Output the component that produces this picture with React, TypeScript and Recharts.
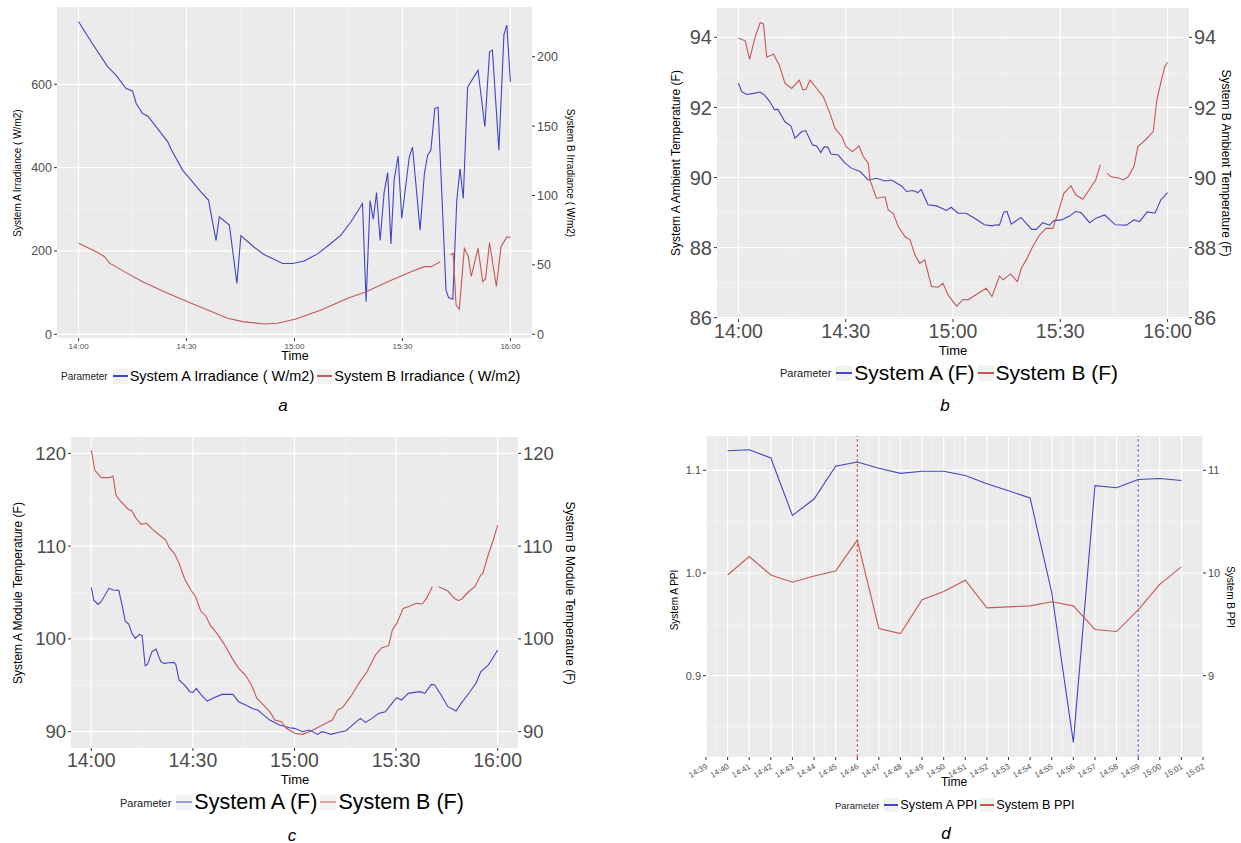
import React from "react";
import { LineChart, Line, XAxis, YAxis, CartesianGrid, ReferenceLine } from "recharts";

type Pt = [number, number | null];

const BLUE = "#4444c8";
const RED = "#c85656";
const BG = "#EBEBEB";
const TICK = "#4D4D4D";

// a — irradiance, minutes after 14:00
const irrA: Pt[] = [
  [0, 750], [3.5, 702], [8.1, 642], [10.4, 622], [13.2, 590], [15, 584], [16, 554], [17.8, 530],
  [19.2, 524], [24.8, 462], [25.7, 444], [28.9, 394], [34, 342], [36.1, 322], [38.2, 225], [39.1, 282],
  [41.9, 262], [44, 122], [45.1, 237], [48.8, 209], [51.4, 192], [56.7, 170], [59.5, 170], [62.7, 176],
  [66.4, 193], [70.1, 218], [72.9, 238], [75.7, 270], [78.9, 314], [79.9, 78], [81, 321], [81.9, 276],
  [82.8, 340], [83.8, 225], [84.9, 340], [85.9, 388], [86.8, 217], [87.7, 370], [88.8, 428], [89.8, 278],
  [91.9, 426], [92.8, 449], [94.9, 250], [96.1, 386], [97, 430], [97.9, 442], [99, 542], [99.9, 545],
  [102.1, 106], [102.8, 88], [104, 84], [105.1, 322], [106, 397], [106.9, 326], [108.1, 593], [111, 634],
  [112.9, 498], [114.2, 678], [115, 682], [116.8, 442], [118.2, 719], [119, 742], [120, 606],
];
const irrB: Pt[] = [
  [0, 65.6], [4.9, 59.5], [7.2, 55.9], [8.6, 51.2], [13.2, 44.4], [17.8, 37.9], [23.8, 30.7], [30.3, 23.5],
  [35.9, 17.5], [41.4, 11.5], [45.6, 9.1], [51.6, 7.4], [55.3, 7.9], [60.4, 11], [67.4, 17.5], [74.8, 25.9],
  [79.9, 30.7], [85.9, 37.9], [92.4, 45.1], [96.1, 48.7], [98, 48.7], [100.5, 52.3], [101.8, null],
  [103.3, 57.1], [104.1, 58.4], [104.9, 21.1], [105.8, 18], [107.2, 62], [108.3, 56], [109.1, 41.6],
  [111, 62], [112.3, 38], [113.1, 40], [114.2, 66], [116.1, 34.4], [117.4, 63.2], [119, 70], [120, 70],
];

// b — ambient temperature
const ambA: Pt[] = [
  [0, 92.69], [0.9, 92.45], [2.3, 92.37], [4.2, 92.4], [6.1, 92.44], [7.3, 92.35], [8.8, 92.16], [10.1, 91.93],
  [11, 91.95], [13, 91.59], [14.7, 91.47], [15.8, 91.12], [17.7, 91.31], [18.8, 91.34], [20.7, 90.93], [21.9, 90.9],
  [23, 90.71], [24, 90.88], [25, 90.86], [25.9, 90.67], [27.9, 90.64], [29.8, 90.41], [31.7, 90.26], [34, 90.17],
  [36.3, 89.93], [38.6, 89.98], [41, 89.9], [42.8, 89.93], [45.6, 89.76], [47, 89.6], [48.8, 89.63], [50.2, 89.57],
  [51.1, 89.66], [53, 89.22], [55.4, 89.19], [58.2, 89.06], [59.5, 89.15], [61.4, 88.98], [63.7, 88.98], [66.5, 88.81],
  [68.8, 88.65], [70.9, 88.62], [72.1, 88.65], [73, 88.64], [74.2, 89.01], [75.1, 89.03], [76.3, 88.67], [79, 88.86],
  [82, 88.52], [83.3, 88.52], [85.1, 88.71], [87, 88.64], [88.2, 88.77], [90.3, 88.79], [92.6, 88.9], [94.2, 89.03],
  [95.8, 89], [98.2, 88.71], [100, 88.84], [102.4, 88.93], [105.4, 88.65], [108.5, 88.64], [110.6, 88.79],
  [112.2, 88.74], [114.3, 89.02], [116.5, 88.98], [118.1, 89.36], [120, 89.57],
];
const ambB: Pt[] = [
  [0, 93.97], [1.9, 93.9], [3.1, 93.37], [4.7, 94.02], [6.1, 94.42], [7, 94.38], [7.9, 93.43], [9.8, 93.52],
  [11.4, 93.21], [13, 92.69], [14.9, 92.54], [17, 92.78], [18, 92.5], [18.9, 92.52], [20, 92.78], [21.9, 92.54],
  [23.7, 92.31], [25.6, 91.83], [27, 91.4], [28.9, 91.17], [30.1, 90.88], [31.9, 90.74], [33.7, 90.9], [34.9, 90.6],
  [36.3, 90.41], [36.8, 89.93], [38.6, 89.41], [41, 89.45], [41.9, 89.07], [43.3, 88.98], [44.7, 88.6], [46.6, 88.31],
  [48, 88.22], [49.3, 87.8], [50.7, 87.55], [52.1, 87.65], [54, 86.89], [55.8, 86.87], [57.2, 86.98], [58.6, 86.65],
  [61, 86.33], [62.8, 86.52], [64.2, 86.51], [67.4, 86.72], [69.3, 86.84], [70.9, 86.6], [73, 87.19], [74, 87.08],
  [76.1, 87.25], [78, 87.03], [79.1, 87.41], [80.5, 87.65], [82.3, 88.03], [84.2, 88.36], [86, 88.55], [87.9, 88.55],
  [89.5, 89.03], [91, 89.55], [93, 89.76], [94.4, 89.5], [96.3, 89.38], [99.9, 89.93], [101.2, 90.36], [102.2, null],
  [103.1, 90.12], [104.2, 90.02], [106.6, 89.98], [107.6, 89.93], [109, 90.02], [110.6, 90.31], [111.7, 90.88],
  [113.8, 91.07], [116, 91.31], [117, 92.21], [118.1, 92.69], [119.2, 93.16], [120, 93.28],
];

// c — module temperature
const modA: Pt[] = [
  [0, 105.56], [0.7, 104.19], [2, 103.72], [2.9, 104.01], [5.2, 105.45], [6.4, 105.27], [8.1, 105.23], [9.3, 103.29],
  [10, 101.93], [11.1, 101.57], [12, 100.6], [13, 100.06], [14.2, 100.49], [15, 100.35], [15.9, 97.11], [16.6, 97.25],
  [17.9, 98.62], [19.1, 98.91], [20.5, 97.54], [21.5, 97.36], [23, 97.43], [24.5, 97.47], [25, 97.18], [25.9, 95.57],
  [27.7, 94.96], [29.1, 94.31], [30, 94.24], [31, 94.67], [32.3, 94.02], [34.2, 93.3], [36.2, 93.66], [38.6, 94.02],
  [41.8, 94.02], [43.5, 93.23], [46, 92.8], [47.9, 92.44], [49.2, 92.33], [50.9, 91.79], [52.7, 91.25], [55.6, 90.72],
  [58.5, 90.43], [60, 90.36], [62.4, 90], [64.4, 90.18], [66.8, 89.71], [68.1, 90], [69.4, 89.89], [70.7, 89.71],
  [73.1, 89.93], [75.1, 90.07], [76.6, 90.54], [78, 91], [79.5, 91.43], [80.9, 91], [82.9, 91.43], [84.8, 91.97],
  [86.8, 92.15], [89.2, 93.23], [90.2, 93.66], [91.6, 93.41], [93.6, 94.13], [95.5, 94.24], [97, 94.31], [98.5, 94.13],
  [100.4, 95.1], [101.4, 95.03], [103.3, 93.95], [105.3, 92.69], [107.7, 92.22], [109.2, 93.05], [111.1, 93.95],
  [113.6, 95.21], [115, 96.46], [117.2, 97.18], [118.2, 97.72], [120, 98.8],
];
const modB: Pt[] = [
  [0, 120.36], [1, 118.2], [2.9, 117.38], [5.4, 117.38], [6.4, 117.56], [7.3, 115.5], [8.3, 114.97], [10.8, 114],
  [12, 113.78], [13.2, 113], [14.7, 112.35], [16.3, 112.46], [18.1, 111.8], [20.1, 111.2], [22, 110.66], [23, 109.83],
  [24.5, 109.22], [25.9, 108.14], [27.7, 106.35], [29.4, 105.27], [30.8, 104.55], [32.3, 103], [33.8, 102.47],
  [35.2, 101.42], [36.7, 100.78], [39.1, 99.52], [41.6, 97.9], [43.5, 96.82], [45.5, 96.1], [47.3, 95.03],
  [48.9, 93.59], [50.9, 92.87], [52.8, 92.1], [54.2, 91.25], [56.1, 91.07], [57.6, 90.36], [60, 89.82], [62.4, 89.71],
  [64.9, 90.07], [67.3, 90.54], [69.7, 91], [71.2, 91.25], [72.7, 92.33], [74.1, 92.58], [76.6, 93.77], [79, 95.21],
  [81.4, 96.46], [83.9, 98.26], [85.8, 99.05], [87.8, 99.27], [88.9, 100.96], [90.2, 101.67], [92.1, 103.29],
  [94.1, 103.54], [96, 103.83], [97.7, 103.76], [99, 104.37], [100.7, 105.63], [101.6, null], [102.6, 105.63],
  [105.3, 105.16], [107.2, 104.37], [108.4, 104.12], [109.4, 104.3], [111.6, 105.16], [113.3, 105.63], [115, 106.88],
  [115.6, 107.06], [117.2, 109.04], [118.7, 110.66], [120, 112.27],
];

// d — PPI, one point per minute from 14:40
const ppiMinutes = [0, 1, 2, 3, 4, 5, 6, 7, 8, 9, 10, 11, 12, 13, 14, 15, 16, 17, 18, 19, 20, 21];
const ppiA = [1.119, 1.12, 1.112, 1.056, 1.072, 1.104, 1.108, 1.102, 1.097, 1.099, 1.099, 1.095, 1.087, 1.08, 1.073, 0.981, 0.835, 1.085, 1.083, 1.091, 1.092, 1.09];
const ppiB = [9.98, 10.16, 9.98, 9.91, 9.97, 10.02, 10.32, 9.46, 9.41, 9.74, 9.82, 9.93, 9.66, 9.67, 9.68, 9.72, 9.68, 9.45, 9.43, 9.64, 9.89, 10.06];
const ppiTicks = [-1, 0, 1, 2, 3, 4, 5, 6, 7, 8, 9, 10, 11, 12, 13, 14, 15, 16, 17, 18, 19, 20, 21, 22];
const markRed = 6;   // 14:46
const markBlue = 19; // 14:59

const hhmm = (m: number) => {
  const h = 14 + Math.floor(m / 60);
  const mm = Math.round(m - (h - 14) * 60);
  return `${h}:${String(mm).padStart(2, "0")}`;
};
const rows = (pts: Pt[]) => pts.map(([t, v]) => ({ t, v }));
const range = (a: number, b: number, s: number) => {
  const out: number[] = [];
  for (let v = a; v <= b + 1e-9; v += s) out.push(+v.toFixed(4));
  return out;
};

const hourMajor = [0, 30, 60, 90, 120];
const hourMinor = [15, 45, 75, 105];

const SlantTick = (props: any) => {
  const { x, y, payload } = props;
  const ax = x + 2;
  const ay = y + 5;
  return (
    <text x={ax} y={ay} transform={`rotate(-30 ${ax} ${ay})`} textAnchor="end" fontSize={8} fill={TICK}>
      {hhmm(payload.value + 40)}
    </text>
  );
};

interface PanelProps {
  left: number; top: number; lw: number; pw: number; rw: number; mt: number; ph: number; xh: number;
  xDomain: [number, number]; xMajor: number[]; xMinor: number[]; xFs: number; xMargin: number; xTick?: any;
  lDomain: [number, number]; lMajor: number[]; lMinor: number[];
  rDomain: [number, number]; rTicks: number[];
  yFs: number; yFmt?: (v: number) => string; rFmt?: (v: number) => string;
  a: { t: number; v: number | null }[]; b: { t: number; v: number | null }[];
  extras?: React.ReactNode;
}

function Panel(p: PanelProps) {
  const w = p.lw + p.pw + p.rw;
  const h = p.mt + p.ph + p.xh;
  return (
    <div style={{ position: "absolute", left: p.left, top: p.top }}>
      <LineChart width={w} height={h} margin={{ top: p.mt, right: 0, bottom: 0, left: 0 }}>
        <CartesianGrid fill={BG} fillOpacity={1} stroke="#F6F6F6" strokeWidth={0.6}
          horizontalValues={p.lMinor} verticalValues={p.xMinor} />
        <CartesianGrid stroke="#FFFFFF" strokeWidth={1.2}
          horizontalValues={p.lMajor} verticalValues={p.xMajor} />
        <XAxis dataKey="t" type="number" domain={p.xDomain} ticks={p.xMajor} allowDataOverflow interval={0}
          tickFormatter={hhmm} height={p.xh} axisLine={false} tickLine={{ stroke: "#333" }} tickSize={3}
          tickMargin={p.xMargin} tick={p.xTick ?? { fontSize: p.xFs, fill: TICK }} />
        <YAxis type="number" domain={p.lDomain} ticks={p.lMajor} allowDataOverflow interval={0} width={p.lw}
          axisLine={false} tickLine={{ stroke: "#333" }} tickSize={3} tickMargin={2}
          tick={{ fontSize: p.yFs, fill: TICK }} tickFormatter={p.yFmt} />
        <YAxis yAxisId="r" orientation="right" type="number" domain={p.rDomain} ticks={p.rTicks} allowDataOverflow
          interval={0} width={p.rw} axisLine={false} tickLine={{ stroke: "#333" }} tickSize={3} tickMargin={2}
          tick={{ fontSize: p.yFs, fill: TICK }} tickFormatter={p.rFmt} />
        {p.extras}
        <Line data={p.a} dataKey="v" stroke={BLUE} strokeWidth={1.1} dot={false} activeDot={false}
          isAnimationActive={false} />
        <Line yAxisId="r" data={p.b} dataKey="v" stroke={RED} strokeWidth={1.1} dot={false} activeDot={false}
          isAnimationActive={false} />
      </LineChart>
    </div>
  );
}

const VTitle = ({ x, y, text, fs, dir }: { x: number; y: number; text: string; fs: number; dir: number }) => (
  <div style={{
    position: "absolute", left: x, top: y, fontSize: fs, whiteSpace: "nowrap", color: "#000",
    transform: `translate(-50%, -50%) rotate(${dir}deg)`,
  }}>{text}</div>
);

const Text = ({ x, y, text, fs, italic }: { x: number; y: number; text: string; fs: number; italic?: boolean }) => (
  <div style={{
    position: "absolute", left: x, top: y, fontSize: fs, lineHeight: 1, whiteSpace: "nowrap", color: "#000",
    fontStyle: italic ? "italic" : "normal", transform: "translate(-50%, -50%)",
  }}>{text}</div>
);

const Legend = ({ x, y, pfs, fs, kw, labels }: { x: number; y: number; pfs: number; fs: number; kw: number; labels: [string, string] }) => (
  <div style={{ position: "absolute", left: x, top: y, transform: "translateY(-50%)", display: "flex", alignItems: "center", whiteSpace: "nowrap", color: "#000" }}>
    <span style={{ fontSize: pfs, color: "#222", marginRight: 5 }}>Parameter</span>
    {[BLUE, RED].map((c, i) => (
      <React.Fragment key={c}>
        <span style={{ display: "inline-flex", alignItems: "center", width: kw, height: kw, background: "#F2F2F2" }}>
          <span style={{ width: "100%", height: 1.2, background: c }} />
        </span>
        <span style={{ fontSize: fs, marginLeft: 2, marginRight: 3 }}>{labels[i]}</span>
      </React.Fragment>
    ))}
  </div>
);

export default function App() {
  const ppiRowsA = ppiMinutes.map((t, i) => ({ t, v: ppiA[i] }));
  const ppiRowsB = ppiMinutes.map((t, i) => ({ t, v: ppiB[i] }));
  return (
    <div style={{ position: "absolute", left: 0, top: 0, width: 1241, height: 843, background: "#fff", fontFamily: "'Liberation Sans', Arial, sans-serif" }}>
      {/* a */}
      <Panel left={0} top={0} lw={57} pw={475} rw={45} mt={7} ph={331} xh={25}
        xDomain={[-6, 126]} xMajor={hourMajor} xMinor={hourMinor} xFs={8} xMargin={2}
        lDomain={[-8.9, 785.5]} lMajor={[0, 200, 400, 600]} lMinor={[100, 300, 500, 700]}
        rDomain={[-2.7, 235.8]} rTicks={[0, 50, 100, 150, 200]} yFs={12.5}
        a={rows(irrA)} b={rows(irrB)} />
      <VTitle x={17} y={173} text="System A Irradiance ( W/m2)" fs={10} dir={-90} />
      <VTitle x={570} y={173} text="System B Irradiance ( W/m2)" fs={10} dir={90} />
      <Text x={295} y={356} text="Time" fs={12.5} />
      <Legend x={61} y={376} pfs={10} fs={14.5} kw={15} labels={["System A Irradiance (  W/m2)", "System B Irradiance (  W/m2)"]} />
      <Text x={283} y={405} text="a" fs={17} italic />

      {/* b */}
      <Panel left={667} top={0} lw={50} pw={472} rw={48} mt={8} ph={311} xh={32}
        xDomain={[-6, 126]} xMajor={hourMajor} xMinor={hourMinor} xFs={19.5} xMargin={2}
        lDomain={[85.963, 94.836]} lMajor={[86, 88, 90, 92, 94]} lMinor={[87, 89, 91, 93]}
        rDomain={[85.963, 94.836]} rTicks={[86, 88, 90, 92, 94]} yFs={20}
        a={rows(ambA)} b={rows(ambB)} />
      <VTitle x={676} y={163} text="System A Ambient Temperature (F)" fs={12} dir={-90} />
      <VTitle x={1226} y={163} text="System B Ambient Temperature (F)" fs={12} dir={90} />
      <Text x={953} y={350} text="Time" fs={13} />
      <Legend x={780} y={373} pfs={11} fs={21} kw={16} labels={["System A (F)", "System B (F)"]} />
      <Text x={945} y={405} text="b" fs={17} italic />

      {/* c */}
      <Panel left={20} top={430} lw={51} pw={447} rw={48} mt={7} ph={311} xh={32}
        xDomain={[-6, 126]} xMajor={hourMajor} xMinor={hourMinor} xFs={19.5} xMargin={2}
        lDomain={[88.24, 121.76]} lMajor={[90, 100, 110, 120]} lMinor={[95, 105, 115]}
        rDomain={[88.24, 121.76]} rTicks={[90, 100, 110, 120]} yFs={18.5}
        a={rows(modA)} b={rows(modB)} />
      <VTitle x={18} y={593} text="System A Module Temperature (F)" fs={12} dir={-90} />
      <VTitle x={570} y={593} text="System B Module Temperature (F)" fs={12} dir={90} />
      <Text x={295} y={779} text="Time" fs={13} />
      <Legend x={120} y={802} pfs={11} fs={21.5} kw={16} labels={["System A (F)", "System B (F)"]} />
      <Text x={292} y={835} text="c" fs={17} italic />

      {/* d */}
      <Panel left={666} top={430} lw={40} pw={497} rw={30} mt={6} ph={321} xh={30}
        xDomain={[-1, 22]} xMajor={ppiTicks} xMinor={range(-0.5, 21.5, 1)} xFs={8} xMargin={3}
        xTick={<SlantTick />}
        lDomain={[0.8208, 1.1334]} lMajor={[0.9, 1.0, 1.1]} lMinor={[0.85, 0.95, 1.05]}
        rDomain={[8.208, 11.334]} rTicks={[9, 10, 11]} yFs={11}
        yFmt={(v) => v.toFixed(1)} rFmt={(v) => String(v)}
        a={ppiRowsA} b={ppiRowsB}
        extras={[
          <ReferenceLine key="r" x={markRed} stroke="#d03a3a" strokeDasharray="3 2" strokeWidth={1} />,
          <ReferenceLine key="b" x={markBlue} stroke="#5a5ad0" strokeDasharray="3 2" strokeWidth={1} />,
        ]} />
      <VTitle x={674} y={600} text="System A PPI" fs={10} dir={-90} />
      <VTitle x={1230} y={597} text="System B PPI" fs={10} dir={90} />
      <Text x={954} y={782} text="Time" fs={12} />
      <Legend x={835} y={805} pfs={9.5} fs={12.7} kw={14} labels={["System A PPI", "System B PPI"]} />
      <Text x={946} y={833} text="d" fs={17} italic />
    </div>
  );
}
